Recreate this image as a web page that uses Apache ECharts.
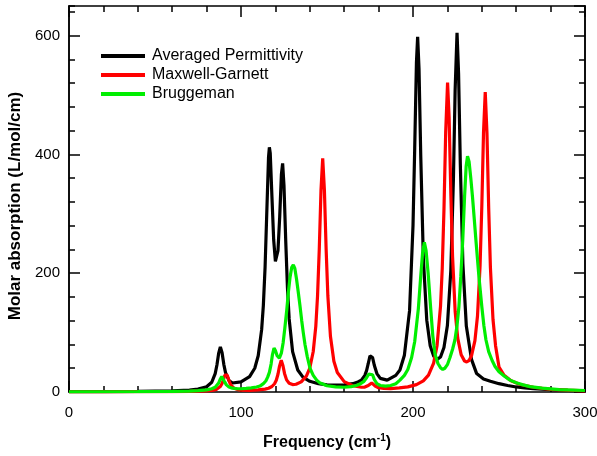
<!DOCTYPE html>
<html>
<head>
<meta charset="utf-8">
<script src="https://cdn.jsdelivr.net/npm/echarts@6/dist/echarts.min.js"></script>
<style>
html,body{margin:0;padding:0;background:#fff;overflow:hidden;}
#chart{width:597px;height:456px;}
</style>
</head>
<body>
<div id="chart"></div>
<script>
// ---- Data ----
var seriesNames = ['Averaged Permittivity', 'Maxwell-Garnett', 'Bruggeman'];
var xTicks = [0, 100, 200, 300];
var yTicks = [0, 200, 400, 600];

var blackX = [0,20,40,60,70,75,80,83,85,86,87,88,89,90,91,93,95,100,105,108,110,112,113,114,115,116,116.5,117,118,119,120,120.7,121.5,122.5,123.5,124.2,125,126,127,128,130,133,136,140,145,150,155,160,165,168,170,172,173,174,175,175.6,176.5,177.5,179,181,185,190,192.4,195,198,200,201,202,202.7,203.5,204.5,206,208,210,212,214,216,218,220,222,223.5,224.5,225.6,226.5,227.5,229,231,234,237,241,245,250,255,260,265,270,280,290,300];
var blackY = [0.5,0.7,1.1,2.1,3.4,4.8,8.8,16.4,31,45.5,65,76,66,46.6,32.7,19.5,15.1,17,26,40,61,105,146,210,303,395,412,402,328,256,220,218,238,295,367,385,347,255,176,123,68,37,25,18,14,12,11.5,12,14,17,20,28,36,48,61,63,58,45,31,23,20,28,37,62,137,280,411,555,598,544,398,226,121,78,60.5,55,59,75,112,205,359,509,605,536,385,216,111,55,31,22,18,14,11,8.5,7,5.5,3.8,2.8,2];

var redX = [0,20,40,60,70,80,84,86,88,89,90,90.6,91.3,92,93,94,96,98,100,105,110,114,116,118,119.5,120.5,121.5,122.4,123.4,124.4,125.3,126.5,128,130,132,135,138,140,142,143.5,144.5,145.5,146.5,147.5,148.5,149.5,150.5,152,154,156,160,165,170,172,174,175,176,177,178,180,183,187,192,197,202,206,209,212,214,216,217,218,219,220.1,221,222,223,224.5,226,228,230,231.2,232.5,234,236,237.5,239,240,241,242,243,244,245,246.5,248,250,253,257,262,270,280,290,300];
var redY = [0.3,0.35,0.5,0.7,1.0,1.9,3.2,4.9,9.3,14.3,22.6,28.4,31.7,28.4,19,12.2,6.2,4.1,3.3,2.9,3.5,4.9,6.4,9.3,13.9,19.7,29.9,43.6,53.7,44.3,31.3,20.4,14.7,12.5,13,17,26.8,40.4,68.2,111,161.7,240,339,393.4,339,240,161.7,93.9,51.9,32.7,17.5,10.5,8,8.3,10.8,13.5,15.3,13.2,10.1,7.1,5.9,5.8,6.9,8.6,12.4,18.8,28.3,48.7,78.4,144.4,208,307,437,521,462,334,228,136,90.6,62.7,52,50.6,52.8,61,86.5,128,213,312,437,505,436,310,210,122.5,78,42,28,19,13,8,4.5,3,2];

var greenX = [0,20,40,60,70,75,80,83,85,86,87,88,88.8,89.6,90.5,91.5,93,95,98,100,103,106,109,111,113,114.5,115.5,116.5,117.5,118.3,119.2,120,121,122.3,123.5,124.5,125.5,126.6,127.5,128.5,129.5,130.4,131.3,132.3,133.3,134.3,135.3,136.2,137.2,138.5,140.1,142,144,146,150,155,160,164,167,169.5,171.5,173,174.3,175.4,176.5,177.5,179,181,184,187,190,192.4,195,197,199.2,201,203.1,204.5,205.6,206.6,207.6,208.8,210.3,211.5,212.8,214.5,216,217.3,218.5,220,221.5,223,224.4,225.6,226.7,227.8,228.9,230,230.9,231.7,232.6,233.6,234.6,235.6,236.6,238.3,240,241.2,242.4,244,246,247.7,250,253,256.4,260,264,268,275,285,300];
var greenY = [0.3,0.4,0.6,1.0,1.6,2.3,3.5,5.5,8,10.5,15,22,26,23,17,12,8.5,6.5,5.5,5.5,6,7,8.5,10,14,19,25,33,47,63,74,70,61,57,66,83,108,138,167,193,210,214,208,190,168,145,120,100,80,60,40,28,20,15,10.5,8.5,8,9,11,14,18,24,30,33,29,21,14,11,10,11,14,20,28,38,58,85,140,195,235,252,238,200,140,95,64,48,41,38,40,46,58,72,88,112,144,195,255,330,380,397,388,360,328,292,255,195,144,112,88,68,53,43,34,27,20,15.5,12,9,6.5,4,2.5];

function zip(xs, ys) { return xs.map(function (x, i) { return [x, ys[i]]; }); }

var FONT = 'Liberation Sans, Arial, Helvetica, sans-serif';
var lineCol = '#000';
var colors = ['#000000', '#ff0000', '#00ee00'];

function axisBase(extra) {
  var base = {
    type: 'value',
    axisLine: { show: true, onZero: false, lineStyle: { color: lineCol, width: 1.5 } },
    splitLine: { show: false },
    axisLabel: { show: false }
  };
  for (var k in extra) base[k] = extra[k];
  return base;
}

var chart = echarts.init(document.getElementById('chart'), null, { renderer: 'canvas' });

var option = {
  animation: false,
  backgroundColor: '#fff',
  color: colors,
  grid: { left: 69, right: 12, top: 6, bottom: 64, containLabel: false, outerBoundsMode: 'none' },
  legend: {
    orient: 'vertical',
    left: 96,
    top: 43,
    itemWidth: 44,
    itemHeight: 4,
    itemGap: 3,
    icon: 'rect',
    data: seriesNames,
    textStyle: { fontSize: 16, color: '#000', fontFamily: FONT, padding: [0, 0, 0, 2] }
  },
  xAxis: [
    axisBase({
      position: 'bottom', min: xTicks[0], max: xTicks[xTicks.length - 1], interval: 100,
      axisTick: { show: true, inside: true, length: 11, lineStyle: { color: lineCol, width: 1.5 } },
      minorTick: { show: true, splitNumber: 5, length: 6, lineStyle: { color: lineCol, width: 1.5 } },
      axisLabel: { show: true, fontSize: 15, color: '#000', margin: 13, fontFamily: FONT },
      name: '{a|Frequency (cm}{s|-1}{a|)}',
      nameLocation: 'middle',
      nameGap: 41,
      nameTextStyle: {
        rich: {
          a: { fontSize: 16, fontWeight: 'bold', color: '#000', fontFamily: FONT },
          s: { fontSize: 10, fontWeight: 'bold', color: '#000', fontFamily: FONT, padding: [0, 0, 9, 0] }
        }
      }
    }),
    axisBase({
      position: 'top', min: xTicks[0], max: xTicks[xTicks.length - 1], interval: 100,
      axisTick: { show: true, inside: true, length: 11, lineStyle: { color: lineCol, width: 1.5 } },
      minorTick: { show: true, splitNumber: 5, length: 6, lineStyle: { color: lineCol, width: 1.5 } }
    })
  ],
  yAxis: [
    axisBase({
      position: 'left', min: yTicks[0], max: 650, interval: 200,
      axisTick: { show: true, inside: true, length: 11, lineStyle: { color: lineCol, width: 1.5 } },
      axisLabel: { show: true, fontSize: 15, color: '#000', margin: 9, fontFamily: FONT, showMaxLabel: false },
      name: 'Molar absorption (L/mol/cm)',
      nameLocation: 'middle',
      nameGap: 39,
      nameTextStyle: { fontSize: 17, fontWeight: 'bold', color: '#000', fontFamily: FONT, padding: [0, 14, 0, 0] }
    }),
    axisBase({
      position: 'left', min: 0, max: 650, interval: 40,
      axisTick: { show: true, inside: true, length: 6, lineStyle: { color: lineCol, width: 1.5 } }
    }),
    axisBase({
      position: 'right', min: 0, max: 650, interval: 200,
      axisTick: { show: true, inside: true, length: 11, lineStyle: { color: lineCol, width: 1.5 } }
    }),
    axisBase({
      position: 'right', min: 0, max: 650, interval: 40,
      axisTick: { show: true, inside: true, length: 6, lineStyle: { color: lineCol, width: 1.5 } }
    })
  ],
  series: [
    { name: seriesNames[0], type: 'line', xAxisIndex: 0, yAxisIndex: 0, showSymbol: false, symbol: 'none',
      lineStyle: { width: 3.2, color: colors[0] }, itemStyle: { color: colors[0] }, data: zip(blackX, blackY) },
    { name: seriesNames[1], type: 'line', xAxisIndex: 0, yAxisIndex: 0, showSymbol: false, symbol: 'none',
      lineStyle: { width: 3.2, color: colors[1] }, itemStyle: { color: colors[1] }, data: zip(redX, redY) },
    { name: seriesNames[2], type: 'line', xAxisIndex: 0, yAxisIndex: 0, showSymbol: false, symbol: 'none',
      lineStyle: { width: 3.2, color: colors[2] }, itemStyle: { color: colors[2] }, data: zip(greenX, greenY) }
  ]
};
chart.setOption(option);
</script>
</body>
</html>
